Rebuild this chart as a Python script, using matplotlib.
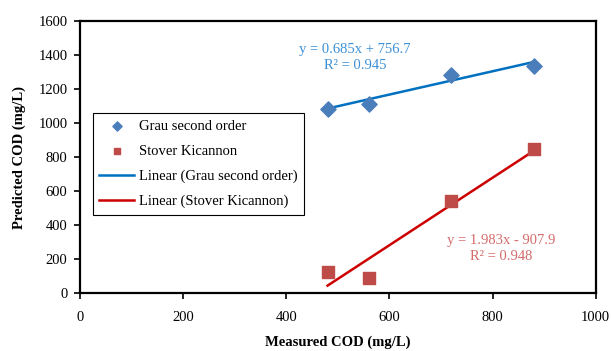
import numpy as np
import matplotlib.pyplot as plt

# measured vs predicted COD (mg/L)
measured = [480, 560, 720, 880]
grau_pred = [1080, 1115, 1285, 1335]
stover_pred = [125, 90, 540, 845]

# trendline coefficients as printed on the chart
grau_fit = (0.685, 756.7)
stover_fit = (1.983, -907.9)

plt.rcParams['font.family'] = ['Liberation Serif', 'DejaVu Serif']

fig = plt.figure(figsize=(6.11, 3.51), dpi=100)
ax = fig.add_axes([0.131, 0.165, 0.844, 0.775])

ax.scatter(measured, grau_pred, marker='D', s=60, color='#4a7ebb', zorder=3,
           label='Grau second order')
ax.scatter(measured, stover_pred, marker='s', s=85, color='#be4b48', zorder=3,
           label='Stover Kicannon')

xs = np.array([min(measured), max(measured)])
ax.plot(xs, grau_fit[0] * xs + grau_fit[1], color='#0070c0', lw=1.8,
        label='Linear (Grau second order)')
ax.plot(xs, stover_fit[0] * xs + stover_fit[1], color='#cc0000', lw=1.8,
        label='Linear (Stover Kicannon)')

eq_fs = 10.5
ax.text(533, 1435, 'y = 0.685x + 756.7', color='#3b8fd6', fontsize=eq_fs,
        ha='center', va='center')
ax.text(533, 1341, 'R² = 0.945', color='#3b8fd6', fontsize=eq_fs,
        ha='center', va='center')
ax.text(816, 312, 'y = 1.983x - 907.9', color='#d46a6a', fontsize=eq_fs,
        ha='center', va='center')
ax.text(816, 218, 'R² = 0.948', color='#d46a6a', fontsize=eq_fs,
        ha='center', va='center')

ax.set_xlim(0, 1000)
ax.set_ylim(0, 1600)
ax.set_xticks(range(0, 1001, 200))
ax.set_yticks(range(0, 1601, 200))
ax.tick_params(direction='out', length=4, width=1.2, labelsize=10.5)
ax.tick_params(axis='x', pad=9)
ax.tick_params(axis='y', pad=5)
for sp in ax.spines.values():
    sp.set_linewidth(1.6)

ax.set_xlabel('Measured COD (mg/L)', fontsize=10.5, fontweight='bold', labelpad=8)
ax.set_ylabel('Predicted COD (mg/L)', fontsize=10.5, fontweight='bold', labelpad=9)

leg = ax.legend(loc='upper left', bbox_to_anchor=(0.025, 0.662), fontsize=10.5,
                fancybox=False, edgecolor='black', framealpha=1,
                handlelength=2.4, labelspacing=0.8, borderpad=0.45,
                borderaxespad=0, handletextpad=0.3, scatterpoints=1)
leg.get_frame().set_linewidth(0.8)
for h in leg.legend_handles[:2]:
    h.set_sizes([22])

fig.savefig('out.png', dpi=100)
